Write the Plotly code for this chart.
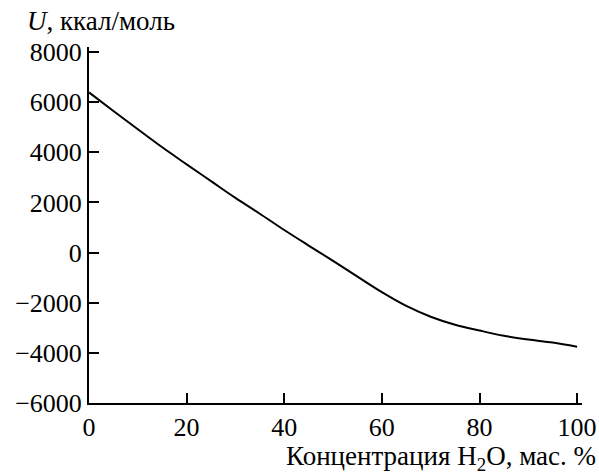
import plotly.graph_objects as go

conc = [0, 5, 10, 15, 20, 25, 30, 35, 40, 45, 50, 55, 60, 65, 70, 75, 80, 85, 90, 95, 100]
energy = [6390, 5650, 4920, 4200, 3520, 2850, 2180, 1550, 900, 280, -330, -960, -1580,
          -2130, -2560, -2880, -3110, -3320, -3470, -3590, -3760]
x_ticks = [0, 20, 40, 60, 80, 100]
y_ticks = [-6000, -4000, -2000, 0, 2000, 4000, 6000, 8000]

FONT = "Liberation Serif"
fig = go.Figure()
fig.add_trace(go.Scatter(x=conc, y=energy, mode="lines", line=dict(color="black", width=2, shape="spline"),
                         showlegend=False))

axis_common = dict(showline=True, linecolor="black", linewidth=2, ticks="inside", ticklen=10,
                   tickwidth=2, tickcolor="black", showgrid=False, zeroline=False, automargin=False,
                   tickfont=dict(family=FONT, size=26, color="black"))
fig.update_xaxes(range=[0, 101], tickvals=x_ticks, ticktext=[str(v) for v in x_ticks], **axis_common)
fig.update_yaxes(range=[-6000, 8200], tickvals=y_ticks,
                 ticktext=[("\u2212" + str(-v)) if v < 0 else str(v) for v in y_ticks], **axis_common)

fig.add_annotation(text="<i>U</i>, ккал/моль", xref="paper", yref="paper", x=-0.13, y=1.0,
                   xanchor="left", yanchor="bottom", showarrow=False, yshift=9,
                   font=dict(family=FONT, size=27, color="black"))
fig.add_annotation(text="Концентрация H<sub>2</sub>O, мас. %", xref="paper", yref="paper", x=1.033, y=0,
                   xanchor="right", yanchor="top", showarrow=False, yshift=-36,
                   font=dict(family=FONT, size=27, color="black"))

fig.update_layout(width=599, height=475, margin=dict(l=89, r=17, t=47, b=72, autoexpand=False),
                  plot_bgcolor="white", paper_bgcolor="white", font=dict(family=FONT, size=26))
fig.write_html("out.html")
